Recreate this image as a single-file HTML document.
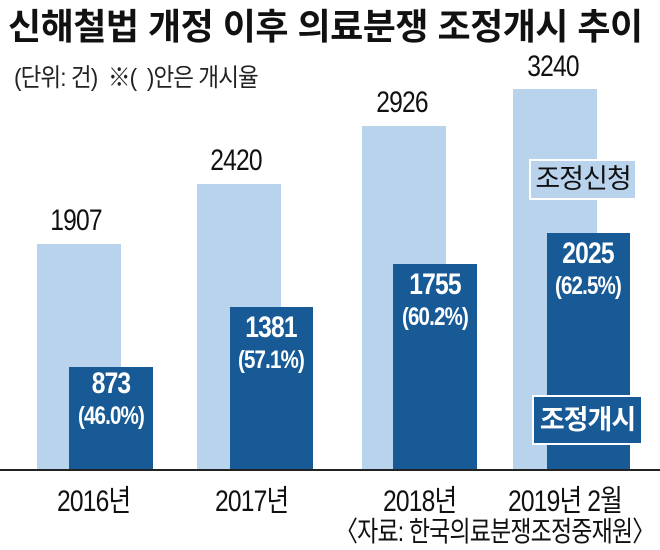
<!DOCTYPE html>
<html><head><meta charset="utf-8"><style>
body{margin:0;width:660px;height:543px;background:#fff;overflow:hidden;position:relative;font-family:"Liberation Sans","Noto Sans CJK KR",sans-serif;}
div{position:absolute;}
.l{background:#bad3ec;}
.d{background:#175a96;}
.v{font-size:30px;color:#111;text-align:center;width:120px;letter-spacing:-1px;transform:scaleX(0.82);}
.w{color:#fff;text-align:center;width:100px;font-weight:bold;letter-spacing:-1px;transform:scaleX(0.82);}
.n{font-size:30px;}
.p{font-size:25px;}
.x{font-size:30px;color:#111;letter-spacing:-1px;transform:scaleX(0.82);transform-origin:left top;white-space:nowrap;}
</style></head><body>
<div style="left:8px;top:-2px;font-size:36px;font-weight:bold;color:#111;letter-spacing:-0.5px;white-space:nowrap;">신해철법 개정 이후 의료분쟁 조정개시 추이</div>
<div style="left:14px;top:58px;font-size:25px;color:#222;white-space:nowrap;letter-spacing:-1px;transform:scaleX(0.9);transform-origin:left top;">(단위: 건) &nbsp;※( &nbsp;)안은 개시율</div>

<div class="l" style="left:37px;top:244px;width:84px;height:226px"></div>
<div class="l" style="left:197px;top:184px;width:84px;height:286px"></div>
<div class="l" style="left:362px;top:126px;width:84px;height:344px"></div>
<div class="l" style="left:513px;top:89px;width:84px;height:381px"></div>
<div class="d" style="left:69px;top:367px;width:84px;height:103px"></div>
<div class="d" style="left:230px;top:307px;width:83px;height:163px"></div>
<div class="d" style="left:393px;top:264px;width:84px;height:206px"></div>
<div class="d" style="left:547px;top:233px;width:83px;height:237px"></div>
<div style="left:0;top:469px;width:660px;height:2px;background:#222"></div>

<div class="v" style="left:16px;top:204px">1907</div>
<div class="v" style="left:176px;top:144px">2420</div>
<div class="v" style="left:342px;top:86px">2926</div>
<div class="v" style="left:493px;top:50px">3240</div>

<div class="w n" style="left:61px;top:367px">873</div>
<div class="w p" style="left:61px;top:402px">(46.0%)</div>
<div class="w n" style="left:221px;top:311px">1381</div>
<div class="w p" style="left:221px;top:346px">(57.1%)</div>
<div class="w n" style="left:385px;top:268px">1755</div>
<div class="w p" style="left:385px;top:303px">(60.2%)</div>
<div class="w n" style="left:538px;top:237px">2025</div>
<div class="w p" style="left:538px;top:272px">(62.5%)</div>

<div style="left:529px;top:159px;width:104px;height:37px;background:#bad3ec;border:2px solid #fff;font-size:27px;color:#111;text-align:center;line-height:37px;letter-spacing:-1px">조정신청</div>
<div style="left:532px;top:395px;width:107px;height:46px;background:#175a96;border:2px solid #fff;font-size:27px;font-weight:bold;color:#fff;text-align:center;line-height:46px;letter-spacing:-1px">조정개시</div>

<div class="x" style="left:57px;top:476px">2016년</div>
<div class="x" style="left:215px;top:476px">2017년</div>
<div class="x" style="left:383px;top:476px">2018년</div>
<div class="x" style="left:508px;top:476px">2019년 2월</div>
<div class="x" style="left:335px;top:510px;font-size:28px">〈자료: 한국의료분쟁조정중재원〉</div>
</body></html>
